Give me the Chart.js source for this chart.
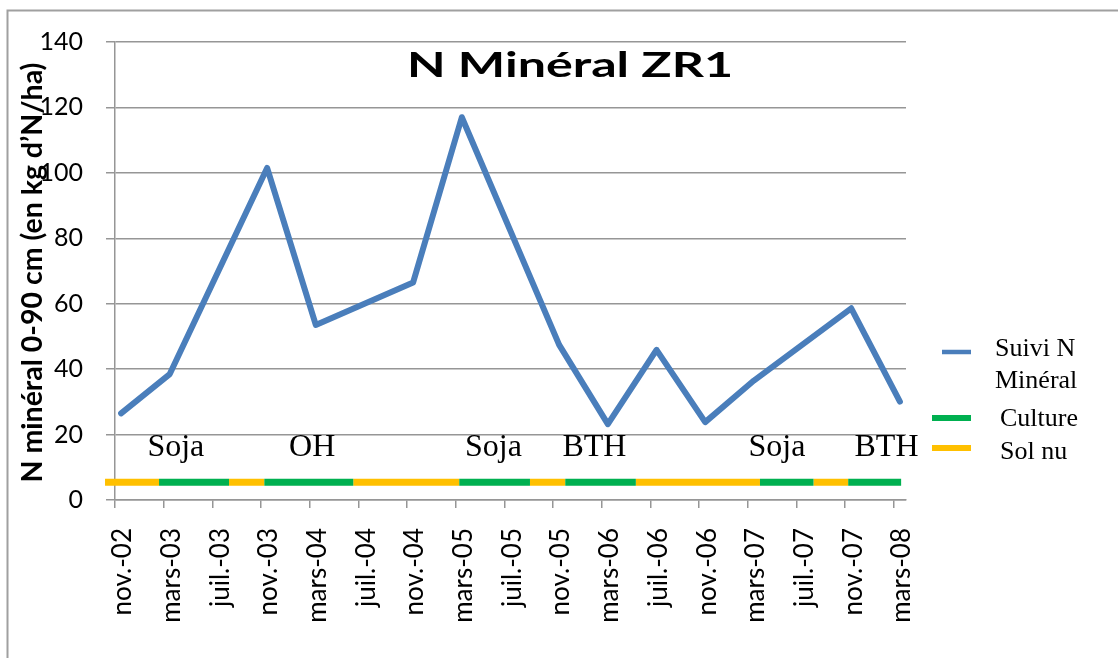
<!DOCTYPE html>
<html>
<head>
<meta charset="utf-8">
<script src="https://cdn.jsdelivr.net/npm/chart.js@4.4.1/dist/chart.umd.min.js"></script>
<style>
  html, body { margin: 0; padding: 0; background: #fff; }
</style>
</head>
<body>
<canvas id="chartZR1" width="1118" height="658"></canvas>
<script>
// Prélèvements (mois) et N minéral 0-90 cm en kg N/ha
const sampleDates = ['2002-11', '2003-03', '2003-11', '2004-03', '2004-11', '2005-03', '2005-11',
                     '2006-03', '2006-07', '2006-11', '2007-03', '2007-11', '2008-03'];
const nMineral = [26.5, 38.5, 101.5, 53.5, 66.5, 117, 47.4, 23.2, 45.9, 23.8, 36.5, 58.6, 30.1];

// étiquettes de l'axe des x (tous les 4 mois)
const tickLabels = ['nov.-02', 'mars-03', 'juil.-03', 'nov.-03', 'mars-04', 'juil.-04', 'nov.-04',
                    'mars-05', 'juil.-05', 'nov.-05', 'mars-06', 'juil.-06', 'nov.-06', 'mars-07',
                    'juil.-07', 'nov.-07', 'mars-08'];

// périodes culture / sol nu (en mois depuis nov.-02)
const phaseBounds = [-0.82, 3.62, 9.37, 12.27, 19.58, 28.29, 34.1, 37.0, 42.8, 53.0, 57.4, 60.25, 64.6];
const phaseTypes = ['sol', 'culture', 'sol', 'culture', 'sol', 'culture',
                    'sol', 'culture', 'sol', 'culture', 'sol', 'culture'];
const bandLevel = 5.4;

// cultures
const cropNames = ['Soja', 'OH', 'Soja', 'BTH', 'Soja', 'BTH'];
const cropMonths = [5.0, 16.2, 31.1, 39.4, 54.4, 63.4];
const cropLevel = 13.5;

const monthIndex = d => {
    const [y, m] = d.split('-').map(Number);
    return (y - 2002) * 12 + (m - 11) + 0.5; // milieu du mois
};

const lineData = sampleDates.map((d, i) => ({ x: monthIndex(d), y: nMineral[i] }));

const bandData = type => {
    const pts = [];
    phaseTypes.forEach((t, i) => {
        if (t !== type) return;
        pts.push({ x: phaseBounds[i], y: bandLevel });
        pts.push({ x: phaseBounds[i + 1], y: bandLevel });
        pts.push({ x: phaseBounds[i + 1], y: null });
    });
    return pts;
};

const BLUE = '#4a7ebb', GREEN = '#00b050', ORANGE = '#ffc000', GRID = '#969696';

// textes, légende et cadre dessinés à la main
const decorPlugin = {
    id: 'decor',
    afterDraw(chart) {
        const ctx = chart.ctx;
        const xs = chart.scales.x, ys = chart.scales.y;
        ctx.save();

        // cadre
        ctx.strokeStyle = '#a0a0a0';
        ctx.lineWidth = 2;
        ctx.beginPath();
        ctx.moveTo(7.5, 700);
        ctx.lineTo(7.5, 10.5);
        ctx.lineTo(1200, 10.5);
        ctx.stroke();

        // titre
        ctx.fillStyle = '#000';
        ctx.font = 'bold 35px Lato';
        ctx.textAlign = 'center';
        ctx.textBaseline = 'alphabetic';
        const title = 'N Minéral ZR1';
        const sx = 326 / ctx.measureText(title).width;
        ctx.save();
        ctx.translate(570, 76.5);
        ctx.scale(sx, 1);
        ctx.fillText(title, 0, 0);
        ctx.restore();

        // titre axe y
        ctx.save();
        ctx.translate(42, 272.5);
        ctx.rotate(-Math.PI / 2);
        ctx.font = 'bold 28.5px Lato';
        ctx.fillText('N minéral 0-90 cm (en kg d’N/ha)', 0, 0);
        ctx.restore();

        // cultures
        ctx.font = '32px "Liberation Serif"';
        cropNames.forEach((name, i) => {
            ctx.fillText(name, xs.getPixelForValue(cropMonths[i]), ys.getPixelForValue(cropLevel));
        });

        // légende
        ctx.textAlign = 'left';
        ctx.font = '26px "Liberation Serif"';
        const ds = chart.data.datasets;
        ctx.lineCap = 'butt';
        ctx.strokeStyle = ds[0].borderColor; ctx.lineWidth = 4.5;
        ctx.beginPath(); ctx.moveTo(942, 352); ctx.lineTo(971, 352); ctx.stroke();
        ctx.fillText('Suivi N', 995, 356);
        ctx.fillText('Minéral', 995, 388);
        ctx.strokeStyle = ds[1].borderColor; ctx.lineWidth = 6;
        ctx.beginPath(); ctx.moveTo(932, 418); ctx.lineTo(971, 418); ctx.stroke();
        ctx.fillText(ds[1].label, 1000, 426);
        ctx.strokeStyle = ds[2].borderColor;
        ctx.beginPath(); ctx.moveTo(932, 448); ctx.lineTo(971, 448); ctx.stroke();
        ctx.fillText(ds[2].label, 1000, 459);

        ctx.restore();
    }
};

new Chart(document.getElementById('chartZR1'), {
    type: 'line',
    data: {
        datasets: [{
            label: 'Suivi N Minéral',
            data: lineData,
            borderColor: BLUE,
            borderWidth: 6,
            borderCapStyle: 'round',
            borderJoinStyle: 'round',
            pointRadius: 0,
            tension: 0
        }, {
            label: 'Culture',
            data: bandData('culture'),
            borderColor: GREEN,
            borderWidth: 7,
            pointRadius: 0,
            spanGaps: false,
            clip: false
        }, {
            label: 'Sol nu',
            data: bandData('sol'),
            borderColor: ORANGE,
            borderWidth: 7,
            pointRadius: 0,
            spanGaps: false,
            clip: false
        }]
    },
    options: {
        responsive: false,
        animation: false,
        layout: { padding: { left: 0, top: 42, right: 212, bottom: 0 } },
        plugins: {
            legend: { display: false },
            tooltip: { enabled: false }
        },
        scales: {
            x: {
                type: 'linear',
                min: 0,
                max: 65,
                afterFit: s => { s.height = 158; },
                grid: { drawOnChartArea: false, color: GRID, lineWidth: 1.5, tickLength: 8 },
                border: { color: GRID, width: 1.5 },
                ticks: {
                    stepSize: 4,
                    includeBounds: false,
                    autoSkip: false,
                    minRotation: 90,
                    maxRotation: 90,
                    padding: 20,
                    labelOffset: 8,
                    color: '#000',
                    font: { family: 'Lato', size: 26 },
                    callback: v => tickLabels[v / 4]
                }
            },
            y: {
                min: 0,
                max: 140,
                afterFit: s => { s.width = 115; },
                grid: { color: GRID, lineWidth: 1.5, tickLength: 9 },
                border: { color: GRID, width: 1.5 },
                ticks: {
                    stepSize: 20,
                    padding: 23,
                    color: '#000',
                    font: { family: 'Lato', size: 25 }
                }
            }
        }
    },
    plugins: [decorPlugin]
});
</script>
</body>
</html>
